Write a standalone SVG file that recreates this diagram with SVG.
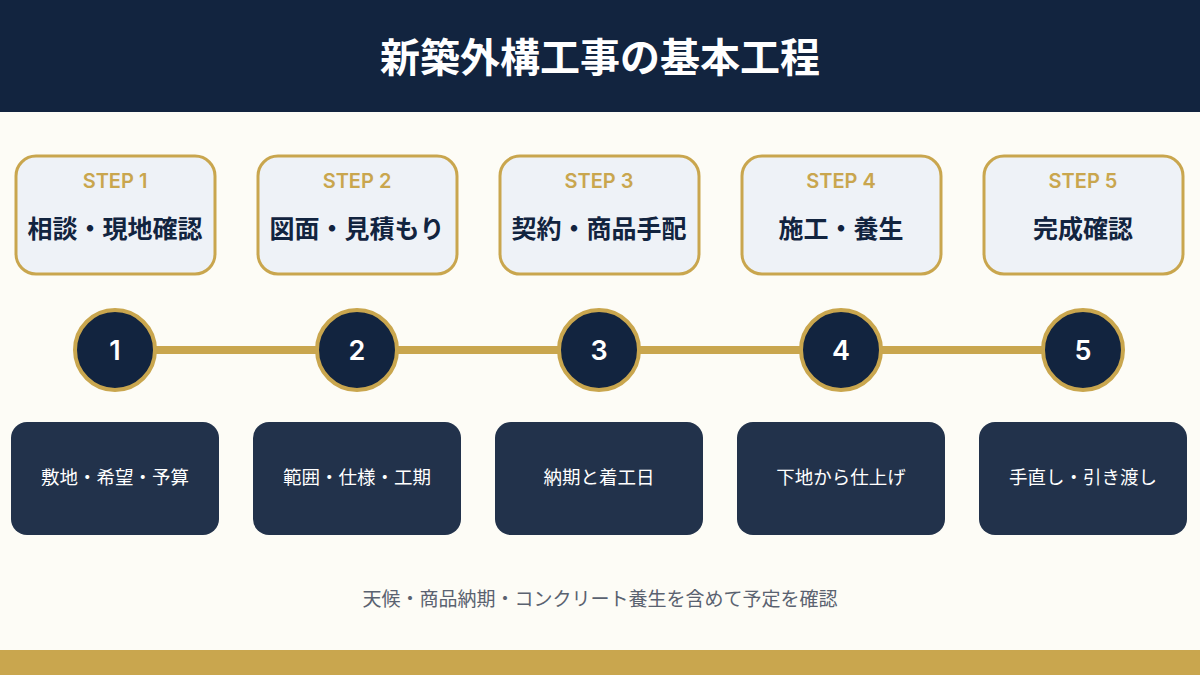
<svg xmlns="http://www.w3.org/2000/svg" width="1200" height="675" viewBox="0 0 1200 675">
<style>
text{font-family:"Noto Sans CJK JP","Noto Sans",sans-serif;text-anchor:middle}
.card{fill:#eef2f7;stroke:#c9a64e;stroke-width:3}
.step{fill:#c9a64e;font-size:20px;font-weight:600;font-family:"Inter","Noto Sans CJK JP",sans-serif}
.title{fill:#12243f;font-size:25px;font-weight:700}
.circ{fill:#12243f;stroke:#c9a64e;stroke-width:4}
.num{fill:#fff;font-size:27px;font-weight:600;font-family:"Inter","Noto Sans",sans-serif}
.box{fill:#22324b}
.desc{fill:#fff;font-size:18.5px}
</style>
<rect width="1200" height="675" fill="#fdfcf6"/>
<rect width="1200" height="112" fill="#12243f"/>
<text x="600" y="72" fill="#fff" font-size="40" font-weight="700">新築外構工事の基本工程</text>
<g id="connectors"><line x1="115" y1="350" x2="1083" y2="350" stroke="#c9a64e" stroke-width="8"/></g>
<g id="step1"><rect class="card" x="16" y="156" width="199" height="118" rx="20"/><text class="step" x="115" y="188">STEP 1</text><text class="title" x="115" y="238">相談・現地確認</text><circle class="circ" cx="115" cy="350" r="40"/><text class="num" x="115" y="360">1</text><rect class="box" x="11" y="422" width="208" height="113" rx="16"/><text class="desc" x="115" y="484">敷地・希望・予算</text></g>
<g id="step2"><rect class="card" x="258" y="156" width="199" height="118" rx="20"/><text class="step" x="357" y="188">STEP 2</text><text class="title" x="357" y="238">図面・見積もり</text><circle class="circ" cx="357" cy="350" r="40"/><text class="num" x="357" y="360">2</text><rect class="box" x="253" y="422" width="208" height="113" rx="16"/><text class="desc" x="357" y="484">範囲・仕様・工期</text></g>
<g id="step3"><rect class="card" x="500" y="156" width="199" height="118" rx="20"/><text class="step" x="599" y="188">STEP 3</text><text class="title" x="599" y="238">契約・商品手配</text><circle class="circ" cx="599" cy="350" r="40"/><text class="num" x="599" y="360">3</text><rect class="box" x="495" y="422" width="208" height="113" rx="16"/><text class="desc" x="599" y="484">納期と着工日</text></g>
<g id="step4"><rect class="card" x="742" y="156" width="199" height="118" rx="20"/><text class="step" x="841" y="188">STEP 4</text><text class="title" x="841" y="238">施工・養生</text><circle class="circ" cx="841" cy="350" r="40"/><text class="num" x="841" y="360">4</text><rect class="box" x="737" y="422" width="208" height="113" rx="16"/><text class="desc" x="841" y="484">下地から仕上げ</text></g>
<g id="step5"><rect class="card" x="984" y="156" width="199" height="118" rx="20"/><text class="step" x="1083" y="188">STEP 5</text><text class="title" x="1083" y="238">完成確認</text><circle class="circ" cx="1083" cy="350" r="40"/><text class="num" x="1083" y="360">5</text><rect class="box" x="979" y="422" width="208" height="113" rx="16"/><text class="desc" x="1083" y="484">手直し・引き渡し</text></g>
<text x="600" y="606" fill="#5a6270" font-size="19">天候・商品納期・コンクリート養生を含めて予定を確認</text>
<rect y="650" width="1200" height="25" fill="#c9a64e"/>
</svg>
